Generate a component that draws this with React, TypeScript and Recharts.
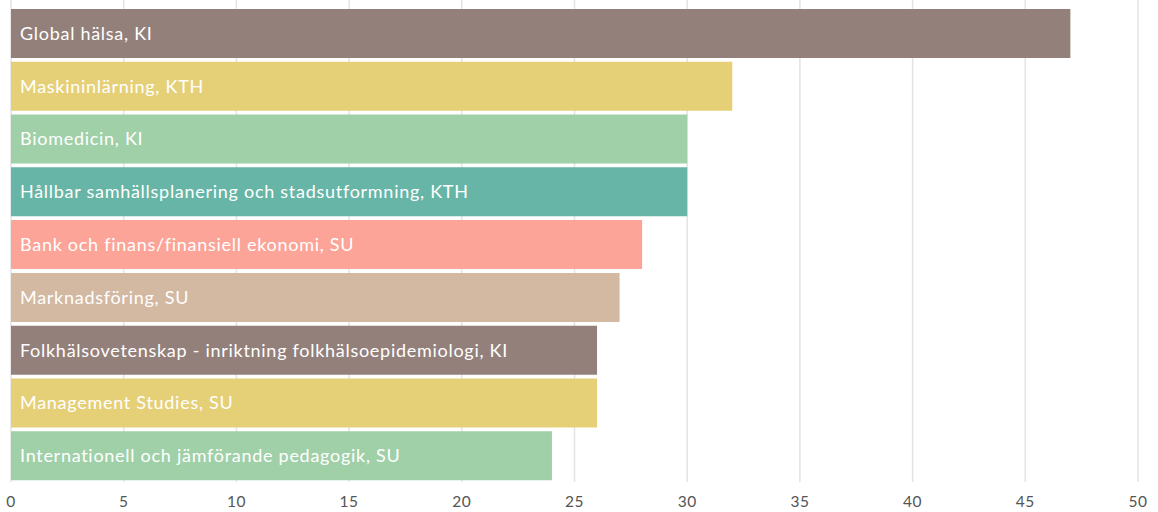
import React from 'react';
import { BarChart, Bar, XAxis, YAxis, CartesianGrid, Cell, LabelList } from 'recharts';

const programs = [
    'Global hälsa, KI',
    'Maskininlärning, KTH',
    'Biomedicin, KI',
    'Hållbar samhällsplanering och stadsutformning, KTH',
    'Bank och finans/finansiell ekonomi, SU',
    'Marknadsföring, SU',
    'Folkhälsovetenskap - inriktning folkhälsoepidemiologi, KI',
    'Management Studies, SU',
    'Internationell och jämförande pedagogik, SU',
];

const counts = [47, 32, 30, 30, 28, 27, 26, 26, 24];

const xTicks = [0, 5, 10, 15, 20, 25, 30, 35, 40, 45, 50];

const COLORS = ['#94807a', '#e6d077', '#a0d0a8', '#66b5a6', '#fda498', '#d3b9a2', '#94807a', '#e6d077', '#a0d0a8'];

const FONT = 'Lato, "Noto Sans", sans-serif';

const chartData = programs.map((name, i) => ({ name, count: counts[i] }));

export default function App() {
    return (
        <div style={{ position: 'absolute', left: 0, top: 0, width: 1158, height: 512, background: '#fff', fontFamily: FONT }}>
            <BarChart
                width={1158}
                height={512}
                data={chartData}
                layout="vertical"
                margin={{ top: 0, right: 20, bottom: 0, left: 11 }}
                barCategoryGap={2}
            >
                <CartesianGrid horizontal={false} stroke="#e3e3e3" strokeWidth={1.5} />
                <XAxis
                    type="number"
                    domain={[0, 50]}
                    ticks={xTicks}
                    axisLine={false}
                    tickLine={false}
                    tickMargin={8}
                    height={30}
                    tick={{ fill: '#555', fontSize: 15.5, fontFamily: FONT, letterSpacing: 0.5 }}
                />
                <YAxis type="category" dataKey="name" hide padding={{ top: 7, bottom: 0 }} />
                <Bar dataKey="count" isAnimationActive={false}>
                    {chartData.map((entry, index) => (
                        <Cell key={`cell-${index}`} fill={COLORS[index % COLORS.length]} />
                    ))}
                    <LabelList
                        dataKey="name"
                        position="insideLeft"
                        offset={9}
                        fill="#fff"
                        style={{ fontSize: 18, fontFamily: FONT, letterSpacing: 0.72 }}
                    />
                </Bar>
            </BarChart>
        </div>
    );
}
